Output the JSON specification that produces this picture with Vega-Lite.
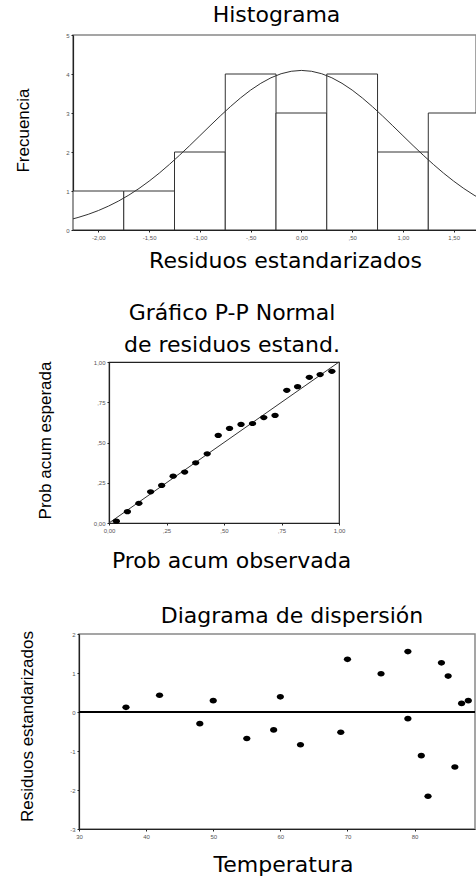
{
  "$schema": "https://vega.github.io/schema/vega-lite/v6.json",
  "padding": {"top": 3, "left": 0, "right": 0, "bottom": 0},
  "background": "white",
  "spacing": 0,
  "config": {
    "view": {"stroke": null},
    "axis": {
      "grid": false,
      "labelFont": "Liberation Sans",
      "labelFontSize": 6,
      "labelColor": "#555",
      "labelOverlap": false,
      "labelFlush": false,
      "tickCount": 12,
      "tickSize": 2,
      "tickColor": "#222",
      "domainColor": "#222",
      "domainWidth": 1.2,
      "labelPadding": 2,
      "titleColor": "black",
      "titleFontWeight": "normal"
    },
    "title": {"font": "DejaVu Sans", "fontSize": 22, "fontWeight": "normal", "color": "black", "anchor": "middle", "baseline": "bottom", "frame": "group"}
  },
  "datasets": {
    "bins": [
      {"start": -2.25, "end": -1.75, "count": 1},
      {"start": -1.75, "end": -1.25, "count": 1},
      {"start": -1.25, "end": -0.75, "count": 2},
      {"start": -0.75, "end": -0.25, "count": 4},
      {"start": -0.25, "end": 0.25, "count": 3},
      {"start": 0.25, "end": 0.75, "count": 4},
      {"start": 0.75, "end": 1.25, "count": 2},
      {"start": 1.25, "end": 1.75, "count": 3}
    ],
    "curve": [
      {"x": -2.25, "f": 0.286}, {"x": -2.2, "f": 0.321}, {"x": -2.1, "f": 0.402}, {"x": -2.0, "f": 0.499},
      {"x": -1.9, "f": 0.613}, {"x": -1.8, "f": 0.744}, {"x": -1.7, "f": 0.895}, {"x": -1.6, "f": 1.064},
      {"x": -1.5, "f": 1.253}, {"x": -1.4, "f": 1.459}, {"x": -1.3, "f": 1.682}, {"x": -1.2, "f": 1.919},
      {"x": -1.1, "f": 2.165}, {"x": -1.0, "f": 2.418}, {"x": -0.9, "f": 2.672}, {"x": -0.8, "f": 2.922},
      {"x": -0.7, "f": 3.162}, {"x": -0.6, "f": 3.386}, {"x": -0.5, "f": 3.588}, {"x": -0.4, "f": 3.761},
      {"x": -0.3, "f": 3.903}, {"x": -0.2, "f": 4.007}, {"x": -0.1, "f": 4.070}, {"x": 0.0, "f": 4.092},
      {"x": 0.1, "f": 4.070}, {"x": 0.2, "f": 4.007}, {"x": 0.3, "f": 3.903}, {"x": 0.4, "f": 3.761},
      {"x": 0.5, "f": 3.588}, {"x": 0.6, "f": 3.386}, {"x": 0.7, "f": 3.162}, {"x": 0.8, "f": 2.922},
      {"x": 0.9, "f": 2.672}, {"x": 1.0, "f": 2.418}, {"x": 1.1, "f": 2.165}, {"x": 1.2, "f": 1.919},
      {"x": 1.3, "f": 1.682}, {"x": 1.4, "f": 1.459}, {"x": 1.5, "f": 1.253}, {"x": 1.6, "f": 1.064},
      {"x": 1.7, "f": 0.895}, {"x": 1.8, "f": 0.744}
    ],
    "pp": [
      {"obs": 0.032, "esp": 0.011}, {"obs": 0.080, "esp": 0.070}, {"obs": 0.130, "esp": 0.122},
      {"obs": 0.181, "esp": 0.194}, {"obs": 0.229, "esp": 0.233}, {"obs": 0.279, "esp": 0.291},
      {"obs": 0.329, "esp": 0.316}, {"obs": 0.377, "esp": 0.374}, {"obs": 0.427, "esp": 0.430},
      {"obs": 0.475, "esp": 0.544}, {"obs": 0.524, "esp": 0.587}, {"obs": 0.574, "esp": 0.612},
      {"obs": 0.624, "esp": 0.618}, {"obs": 0.673, "esp": 0.655}, {"obs": 0.722, "esp": 0.668},
      {"obs": 0.773, "esp": 0.824}, {"obs": 0.820, "esp": 0.847}, {"obs": 0.871, "esp": 0.905},
      {"obs": 0.918, "esp": 0.922}, {"obs": 0.969, "esp": 0.942}
    ],
    "diag": [{"obs": 0, "esp": 0}, {"obs": 1, "esp": 1}],
    "scatter": [
      {"temp": 37, "res": 0.12}, {"temp": 42, "res": 0.43}, {"temp": 48, "res": -0.30}, {"temp": 50, "res": 0.29},
      {"temp": 55, "res": -0.68}, {"temp": 59, "res": -0.46}, {"temp": 60, "res": 0.39}, {"temp": 63, "res": -0.84},
      {"temp": 69, "res": -0.52}, {"temp": 70, "res": 1.35}, {"temp": 75, "res": 0.98}, {"temp": 79, "res": 1.55},
      {"temp": 79, "res": -0.17}, {"temp": 81, "res": -1.12}, {"temp": 82, "res": -2.16}, {"temp": 84, "res": 1.26},
      {"temp": 85, "res": 0.92}, {"temp": 86, "res": -1.41}, {"temp": 87, "res": 0.22}, {"temp": 88, "res": 0.29}
    ],
    "zero": [{"res": 0}],
    "one": [{"k": 1}]
  },
  "vconcat": [
    {
      "spacing": 0,
      "hconcat": [
        {"width": 13, "height": 266, "data": {"name": "one"}, "mark": {"type": "point", "opacity": 0}, "view": {"stroke": null}},
        {
          "width": 403,
          "height": 195,
          "title": {"text": "Histograma", "offset": 5, "dx": 2},
          "view": {"stroke": "#888", "strokeWidth": 1.5},
          "layer": [
            {
              "data": {"name": "bins"},
              "mark": {"type": "rect", "fill": "white", "stroke": "#333", "strokeWidth": 1, "clip": true},
              "encoding": {
                "x": {"field": "start", "type": "quantitative", "scale": {"domain": [-2.25, 1.72], "nice": false, "zero": false},
                  "axis": {"values": [-2, -1.5, -1, -0.5, 0, 0.5, 1, 1.5], "labelOverlap": false, "tickCount": 20,
                    "labelExpr": "datum.value == -2 ? '-2,00' : datum.value == -1.5 ? '-1,50' : datum.value == -1 ? '-1,00' : datum.value == -0.5 ? '-,50' : datum.value == 0 ? '0,00' : datum.value == 0.5 ? ',50' : datum.value == 1 ? '1,00' : '1,50'",
                    "title": "Residuos estandarizados", "titleFont": "DejaVu Sans", "titleFontSize": 22,
                    "titleX": 212, "titleY": 30, "titleBaseline": "middle", "titleAlign": "center"}},
                "x2": {"field": "end"},
                "y": {"field": "count", "type": "quantitative", "scale": {"domain": [0, 5], "nice": false},
                  "axis": {"values": [0, 1, 2, 3, 4, 5], "labelOverlap": false, "tickCount": 12,
                    "labelExpr": "datum.value == 0 ? '0' : datum.value == 1 ? '1' : datum.value == 2 ? '2' : datum.value == 3 ? '3' : datum.value == 4 ? '4' : '5'",
                    "title": "Frecuencia", "titleFont": "Liberation Sans", "titleFontSize": 17,
                    "titleAngle": -90, "titleX": -50, "titleY": 95, "titleBaseline": "middle", "titleAlign": "center"}},
                "y2": {"datum": 0}
              }
            },
            {
              "data": {"name": "curve"},
              "mark": {"type": "line", "color": "#333", "strokeWidth": 1, "clip": true},
              "encoding": {
                "x": {"field": "x", "type": "quantitative"},
                "y": {"field": "f", "type": "quantitative"}
              }
            }
          ]
        }
      ]
    },
    {
      "spacing": 0,
      "hconcat": [
        {"width": 35, "height": 241, "data": {"name": "one"}, "mark": {"type": "point", "opacity": 0}, "view": {"stroke": null}},
        {
          "width": 230,
          "height": 161,
          "title": {"text": ["Gráfico P-P Normal", "de residuos estand."], "offset": 2, "dx": 8, "lineHeight": 32},
          "view": {"stroke": "#222", "strokeWidth": 1.2},
          "layer": [
            {
              "data": {"name": "diag"},
              "mark": {"type": "line", "color": "#333", "strokeWidth": 1},
              "encoding": {
                "x": {"field": "obs", "type": "quantitative", "scale": {"domain": [0, 1], "nice": false},
                  "axis": {"values": [0, 0.25, 0.5, 0.75, 1], "labelOverlap": false, "tickCount": 12,
                    "labelExpr": "datum.value == 0 ? '0,00' : datum.value == 0.25 ? ',25' : datum.value == 0.5 ? ',50' : datum.value == 0.75 ? ',75' : '1,00'",
                    "title": "Prob acum observada", "titleFont": "DejaVu Sans", "titleFontSize": 22,
                    "titleX": 122, "titleY": 37, "titleBaseline": "middle", "titleAlign": "center"}},
                "y": {"field": "esp", "type": "quantitative", "scale": {"domain": [0, 1], "nice": false},
                  "axis": {"values": [0, 0.25, 0.5, 0.75, 1], "labelOverlap": false, "tickCount": 12,
                    "labelExpr": "datum.value == 0 ? '0,00' : datum.value == 0.25 ? ',25' : datum.value == 0.5 ? ',50' : datum.value == 0.75 ? ',75' : '1,00'",
                    "title": "Prob acum esperada", "titleFont": "Liberation Sans", "titleFontSize": 17,
                    "titleAngle": -90, "titleX": -64, "titleY": 78, "titleBaseline": "middle", "titleAlign": "center"}}
              }
            },
            {
              "data": {"name": "pp"},
              "mark": {"type": "point", "filled": true, "color": "black", "opacity": 1, "size": 53, "shape": "M-1,0A1,0.72 0 1,0 1,0A1,0.72 0 1,0 -1,0Z"},
              "encoding": {
                "x": {"field": "obs", "type": "quantitative"},
                "y": {"field": "esp", "type": "quantitative"}
              }
            }
          ]
        }
      ]
    },
    {
      "spacing": 0,
      "hconcat": [
        {"width": 17, "height": 10, "data": {"name": "one"}, "mark": {"type": "point", "opacity": 0}, "view": {"stroke": null}},
        {
          "width": 396,
          "height": 195,
          "title": {"text": "Diagrama de dispersión", "offset": 3, "dx": 15},
          "view": {"stroke": "#888", "strokeWidth": 1.5},
          "layer": [
            {
              "data": {"name": "zero"},
              "mark": {"type": "rule", "color": "black", "strokeWidth": 2},
              "encoding": {
                "y": {"field": "res", "type": "quantitative", "scale": {"domain": [-3, 2], "nice": false},
                  "axis": {"values": [-3, -2, -1, 0, 1, 2], "labelOverlap": false, "tickCount": 12,
                    "labelExpr": "datum.value == -3 ? '-3' : datum.value == -2 ? '-2' : datum.value == -1 ? '-1' : datum.value == 0 ? '0' : datum.value == 1 ? '1' : '2'",
                    "title": "Residuos estandarizados", "titleFont": "Liberation Sans", "titleFontSize": 17,
                    "titleAngle": -90, "titleX": -52, "titleY": 92, "titleBaseline": "middle", "titleAlign": "center"}}
              }
            },
            {
              "data": {"name": "scatter"},
              "mark": {"type": "point", "filled": true, "color": "black", "opacity": 1, "size": 53, "shape": "M-1,0A1,0.78 0 1,0 1,0A1,0.78 0 1,0 -1,0Z", "clip": true},
              "encoding": {
                "x": {"field": "temp", "type": "quantitative", "scale": {"domain": [30, 89], "nice": false, "zero": false},
                  "axis": {"values": [30, 40, 50, 60, 70, 80], "labelOverlap": false, "tickCount": 12,
                    "labelExpr": "datum.value + ''",
                    "title": "Temperatura", "titleFont": "DejaVu Sans", "titleFontSize": 22,
                    "titleX": 204, "titleY": 35, "titleBaseline": "middle", "titleAlign": "center"}},
                "y": {"field": "res", "type": "quantitative"}
              }
            }
          ]
        }
      ]
    }
  ]
}
